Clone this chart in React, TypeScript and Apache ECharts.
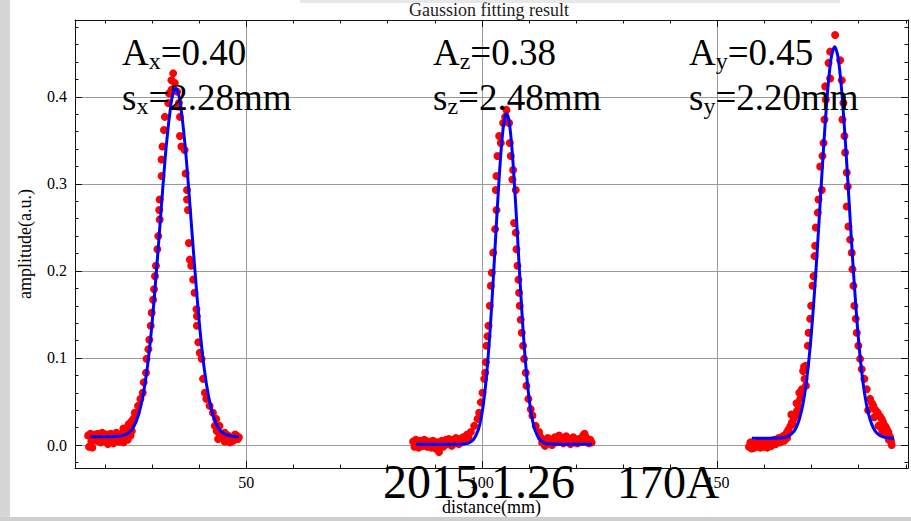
import React, { useEffect, useRef } from "react";
import * as echarts from "echarts";

const FONT = '"Liberation Serif", "Times New Roman", Times, serif';

// axis extents (mm and a.u.)
const X_MIN = 13.62;
const X_MAX = 190.47;
const Y_MIN = -0.0264;
const Y_MAX = 0.4883;

// measured points, x-profile (left peak)
const pointsX: number[][] = [
  [16.4, 0.011], [16.6, -0.002], [16.9, 0.013], [17.1, 0.004], [17.3, -0.003], [17.6, 0.009], [17.9, 0.012],
  [18.2, 0.005], [18.5, 0.013], [18.8, 0.008], [19.1, 0.003], [19.4, 0.014], [19.7, 0.01], [20.0, 0.006],
  [20.3, 0.012], [20.6, 0.001], [20.9, 0.009], [21.2, 0.013], [21.5, 0.007], [21.8, 0.002], [22.1, 0.011],
  [22.4, 0.014], [22.7, 0.008], [23.0, 0.004], [23.3, 0.012], [23.6, 0.009], [23.9, 0.003], [24.2, 0.013],
  [24.5, 0.01], [24.8, 0.006], [25.1, 0.014], [25.4, 0.011], [25.7, 0.016], [23.9, 0.019], [24.3, 0.016],
  [25.0, 0.024], [25.6, 0.027], [24.6, 0.018], [25.3, 0.022], [26.0, 0.03], [26.3, 0.037], [26.7, 0.037],
  [27.0, 0.045], [27.5, 0.053], [28.0, 0.06], [28.2, 0.072], [28.7, 0.083], [28.8, 0.099], [29.2, 0.11],
  [29.4, 0.121], [29.7, 0.137], [29.9, 0.152], [30.2, 0.167], [30.4, 0.179], [30.6, 0.194], [30.8, 0.206],
  [31.1, 0.225], [31.3, 0.24], [31.6, 0.259], [31.5, 0.27], [31.6, 0.282], [32.0, 0.309], [32.0, 0.328],
  [32.2, 0.343], [32.5, 0.362], [32.7, 0.377], [33.4, 0.393], [33.6, 0.404], [34.1, 0.419], [34.46, 0.427],
  [34.81, 0.416], [34.1, 0.408], [35.3, 0.406], [35.7, 0.393], [35.5, 0.389], [35.9, 0.377], [35.9, 0.355],
  [36.2, 0.343], [36.9, 0.339], [37.1, 0.312], [37.4, 0.293], [37.4, 0.282], [37.6, 0.27], [37.8, 0.232],
  [38.0, 0.213], [38.3, 0.206], [38.7, 0.19], [39.0, 0.175], [39.4, 0.156], [39.5, 0.148], [39.5, 0.137],
  [39.8, 0.118], [40.1, 0.106], [40.5, 0.099], [40.8, 0.076], [41.2, 0.06], [41.5, 0.053], [42.2, 0.045],
  [42.9, 0.037], [43.6, 0.03], [44.3, 0.022], [45.4, 0.014], [46.8, 0.007], [47.9, 0.007], [43.3, 0.022],
  [43.7, 0.016], [44.0, 0.007], [44.3, 0.013], [44.7, 0.01], [45.0, 0.009], [45.4, 0.004], [45.7, 0.007],
  [46.1, 0.011], [46.5, 0.003], [46.9, 0.008], [47.2, 0.005], [47.6, 0.012], [47.9, 0.011], [48.2, 0.007],
  [48.4, 0.009],
];

// measured points, z-profile (middle peak)
const pointsZ: number[][] = [
  [85.4, 0.004], [85.7, -0.002], [86.0, 0.006], [86.3, 0.001], [86.6, -0.003], [86.9, 0.005], [87.2, 0.002],
  [87.5, -0.001], [87.8, 0.006], [88.1, 0.003], [88.4, -0.002], [88.7, 0.004], [89.0, 0.001], [89.3, -0.003],
  [89.6, 0.005], [89.9, 0.002], [90.2, -0.004], [90.5, 0.003], [90.9, -0.008], [91.2, 0.001], [91.5, 0.005],
  [91.8, -0.002], [92.1, 0.004], [92.4, 0.006], [92.7, 0.001], [93.0, 0.007], [93.3, 0.003], [93.6, -0.001],
  [93.9, 0.006], [94.2, 0.002], [94.5, 0.008], [94.8, 0.004], [95.1, 0.001], [95.4, 0.007], [95.7, 0.003],
  [96.0, 0.009], [96.3, 0.005], [96.6, 0.01], [96.9, 0.012], [97.2, 0.008], [97.66, 0.015], [98.37, 0.022],
  [99.08, 0.03], [99.43, 0.037], [99.78, 0.049], [100.14, 0.06], [100.49, 0.076], [100.7, 0.083],
  [100.84, 0.095], [100.98, 0.114], [101.19, 0.125], [101.41, 0.137], [101.69, 0.16], [101.9, 0.183],
  [102.11, 0.198], [102.4, 0.221], [102.82, 0.248], [103.1, 0.27], [102.96, 0.293], [103.1, 0.309],
  [103.31, 0.332], [104.02, 0.347], [103.67, 0.355], [104.51, 0.37], [104.94, 0.377], [105.22, 0.385],
  [105.79, 0.37], [105.93, 0.347], [106.14, 0.332], [106.63, 0.316], [106.49, 0.305], [107.2, 0.293],
  [106.84, 0.255], [107.2, 0.244], [107.34, 0.225], [107.55, 0.206], [107.76, 0.19], [107.9, 0.175],
  [108.04, 0.16], [108.26, 0.144], [108.47, 0.129], [108.75, 0.114], [108.96, 0.099], [109.32, 0.083],
  [109.46, 0.068], [109.88, 0.053], [110.38, 0.041], [110.73, 0.034], [111.43, 0.022], [112.14, 0.015],
  [112.5, 0.009], [112.8, 0.003], [113.1, 0.006], [113.4, -0.001], [113.7, 0.004], [114.0, 0.008],
  [114.3, 0.002], [114.6, 0.006], [114.9, 0.0], [115.2, 0.005], [115.5, 0.009], [115.8, 0.003],
  [116.1, 0.007], [116.4, 0.011], [116.7, 0.004], [117.0, 0.008], [117.3, 0.002], [117.6, 0.006],
  [117.9, 0.01], [118.2, 0.004], [118.5, 0.007], [118.8, 0.001], [119.1, 0.005], [119.4, 0.009],
  [119.7, 0.003], [120.0, 0.006], [120.3, 0.002], [120.6, 0.007], [120.9, 0.004], [121.2, 0.008],
  [121.5, 0.011], [121.8, 0.013], [122.1, 0.009], [122.4, 0.005], [122.7, 0.002], [123.0, 0.006],
  [123.3, 0.003],
];

// measured points, y-profile (right peak)
const pointsY: number[][] = [
  [156.7, -0.002], [157.0, 0.003], [157.3, -0.004], [157.6, 0.001], [157.9, -0.003], [158.2, 0.002],
  [158.5, -0.001], [158.8, 0.004], [159.1, -0.003], [159.4, 0.001], [159.7, -0.002], [160.0, 0.003],
  [160.3, 0.0], [160.6, -0.003], [160.9, 0.002], [161.2, 0.005], [161.5, -0.001], [161.8, 0.003],
  [162.1, 0.006], [162.4, 0.001], [162.7, 0.004], [163.0, 0.008], [163.3, 0.003], [163.6, 0.006],
  [163.9, 0.01], [164.2, 0.005], [164.5, 0.012], [164.8, 0.008], [165.1, 0.016], [164.8, 0.015],
  [165.5, 0.022], [165.11, 0.018], [165.82, 0.026], [166.2, 0.03], [166.52, 0.034], [166.9, 0.039],
  [165.7, 0.035], [166.0, 0.024], [166.8, 0.048], [167.4, 0.06], [168.2, 0.085], [168.4, 0.09],
  [167.23, 0.045], [167.58, 0.053], [167.9, 0.057], [167.94, 0.064], [168.5, 0.076], [168.8, 0.068],
  [168.78, 0.091], [169.21, 0.114], [169.35, 0.129], [169.7, 0.145], [169.91, 0.16], [170.2, 0.183],
  [170.41, 0.194], [170.62, 0.217], [170.76, 0.229], [170.9, 0.25], [171.32, 0.267], [171.47, 0.282],
  [172.17, 0.293], [171.82, 0.32], [172.31, 0.332], [172.53, 0.347], [172.74, 0.374], [173.02, 0.397],
  [172.88, 0.412], [173.94, 0.421], [173.59, 0.439], [173.94, 0.452], [175.0, 0.471], [176.06, 0.442],
  [176.41, 0.419], [176.76, 0.393], [176.55, 0.374], [176.97, 0.355], [177.12, 0.336], [177.47, 0.313],
  [177.68, 0.297], [177.47, 0.274], [177.82, 0.251], [178.18, 0.236], [178.53, 0.221], [178.67, 0.202],
  [178.88, 0.183], [179.09, 0.16], [179.38, 0.145], [179.59, 0.129], [179.94, 0.114], [180.3, 0.099],
  [180.65, 0.087], [181.21, 0.076], [181.71, 0.064], [182.41, 0.053], [182.8, 0.048], [183.12, 0.045],
  [183.6, 0.04], [184.04, 0.037], [184.5, 0.033], [184.89, 0.03], [185.2, 0.026], [185.59, 0.022],
  [185.9, 0.019], [186.3, 0.015], [186.6, 0.01], [186.86, 0.005], [187.0, 0.0], [182.0, 0.04],
  [183.3, 0.032], [184.2, 0.022], [185.0, 0.016], [185.8, 0.012], [186.4, 0.006],
];

// fitted Gaussian curves
const fitX: number[][] = [
  [16.8, 0.0095], [20.0, 0.0096], [23.0, 0.0101], [24.0, 0.0113], [25.0, 0.014], [26.0, 0.02], [27.0, 0.033],
  [28.0, 0.055], [29.0, 0.09], [30.0, 0.141], [31.0, 0.206], [32.0, 0.277], [33.0, 0.344], [34.0, 0.392],
  [34.5, 0.405], [35.0, 0.4095], [35.5, 0.405], [36.0, 0.392], [37.0, 0.344], [38.0, 0.277], [39.0, 0.206],
  [40.0, 0.141], [41.0, 0.09], [42.0, 0.055], [43.0, 0.033], [44.0, 0.02], [45.0, 0.014], [46.0, 0.0113],
  [47.0, 0.0101], [48.4, 0.0096],
];
const fitZ: number[][] = [
  [86.0, 0.001], [94.0, 0.001], [96.25, 0.0013], [97.25, 0.0025], [98.25, 0.0064], [99.25, 0.0177],
  [99.75, 0.0285], [100.25, 0.0443], [100.75, 0.0665], [101.25, 0.0957], [101.75, 0.132], [102.25, 0.175],
  [102.75, 0.2218], [103.25, 0.2695], [103.75, 0.3136], [104.25, 0.3495], [104.75, 0.3728], [105.25, 0.381],
  [105.75, 0.3728], [106.25, 0.3495], [106.75, 0.3136], [107.25, 0.2695], [107.75, 0.2218], [108.25, 0.175],
  [108.75, 0.132], [109.25, 0.0957], [109.75, 0.0665], [110.25, 0.0443], [110.75, 0.0285], [111.25, 0.0177],
  [112.25, 0.0064], [113.25, 0.0025], [114.25, 0.0013], [123.4, 0.001],
];
const fitY: number[][] = [
  [157.3, 0.0077], [163.9, 0.0084], [164.9, 0.0098], [165.9, 0.0135], [166.65, 0.0193], [167.4, 0.0296],
  [168.15, 0.0465], [168.9, 0.0727], [169.65, 0.1099], [170.4, 0.1592], [171.15, 0.219], [171.9, 0.285],
  [172.65, 0.3506], [173.4, 0.4064], [174.15, 0.4443], [174.9, 0.4577], [175.65, 0.4443], [176.4, 0.4064],
  [177.15, 0.3506], [177.9, 0.285], [178.65, 0.219], [179.4, 0.1592], [180.15, 0.1099], [180.9, 0.0727],
  [181.65, 0.0465], [182.4, 0.0296], [183.15, 0.0193], [183.9, 0.0135], [184.9, 0.0098], [185.9, 0.0084],
  [187.5, 0.0078],
];

// annotation texts
const ampLabels = [
  { sub: "x", a: "0.40", s: "2.28mm", left: 122 },
  { sub: "z", a: "0.38", s: "2.48mm", left: 433 },
  { sub: "y", a: "0.45", s: "2.20mm", left: 689 },
];
const dateText = "2015.1.26";
const currentText = "170A";
const titleText = "Gaussion fitting result";
const xName = "distance(mm)";
const yName = "amplitude(a.u.)";

export default function App() {
  const ref = useRef<HTMLDivElement>(null);
  useEffect(() => {
    const chart = echarts.init(ref.current!, null, { renderer: "svg" });
    const axisColor = "#111";
    const tick = { show: true, inside: true, length: 7, lineStyle: { color: axisColor, width: 1 } };
    const minor = { show: true, splitNumber: 5, length: 3.5, lineStyle: { color: axisColor, width: 1 } };
    const xCommon: any = {
      type: "value", min: X_MIN, max: X_MAX, minInterval: 50, maxInterval: 50, splitNumber: 4,
      axisLine: { show: true, onZero: false, lineStyle: { color: axisColor, width: 1 } },
      axisTick: tick, minorTick: minor,
    };
    const yCommon: any = {
      type: "value", min: Y_MIN, max: Y_MAX, minInterval: 0.1, maxInterval: 0.1, splitNumber: 5,
      axisLine: { show: true, onZero: false, lineStyle: { color: axisColor, width: 1 } },
      axisTick: tick, minorTick: minor,
    };
    const isMult = (v: number, step: number) => Math.abs(v / step - Math.round(v / step)) < 1e-6;
    const rich = {
      b: { fontSize: 37, fontFamily: FONT, lineHeight: 40, color: "#000" },
      s: { fontSize: 24, fontFamily: FONT, lineHeight: 16, verticalAlign: "bottom", color: "#000" },
    };
    const annots: any[] = [];
    ampLabels.forEach((l) => {
      annots.push({
        type: "text", x: l.left, y: 32.5, z: 100,
        style: { text: `{b|A}{s|${l.sub}}{b|=${l.a}}`, rich, align: "left", verticalAlign: "top" },
      });
      annots.push({
        type: "text", x: l.left, y: 77.5, z: 100,
        style: { text: `{b|s}{s|${l.sub}}{b|=${l.s}}`, rich, align: "left", verticalAlign: "top" },
      });
    });
    const scatterStyle = { color: "#ff0000", opacity: 1 };
    const option: any = {
      animation: false,
      backgroundColor: "#ffffff",
      title: {
        text: titleText, left: 409, top: 1, padding: 0,
        textStyle: { fontFamily: FONT, fontSize: 18, fontWeight: "normal", color: "#222" },
      },
      grid: { left: 75, right: 1, top: 20, bottom: 52 },
      xAxis: [
        {
          ...xCommon, position: "bottom",
          name: xName, nameLocation: "middle", nameGap: 30,
          nameTextStyle: { fontFamily: FONT, fontSize: 18, color: "#000" },
          axisLabel: {
            margin: 6, fontFamily: FONT, fontSize: 16, color: "#000",
            formatter: (v: number) => (isMult(v, 50) ? String(Math.round(v)) : ""),
          },
          splitLine: { show: true, lineStyle: { color: "#9a9a9a", width: 1 } },
        },
        { ...xCommon, position: "top", axisLabel: { show: false }, splitLine: { show: false } },
      ],
      yAxis: [
        {
          ...yCommon, position: "left",
          name: yName, nameLocation: "middle", nameGap: 41,
          nameTextStyle: { fontFamily: FONT, fontSize: 18, color: "#000" },
          axisLabel: {
            margin: 8, fontFamily: FONT, fontSize: 16, color: "#000",
            formatter: (v: number) => (isMult(v, 0.1) ? v.toFixed(1) : ""),
          },
          splitLine: { show: true, lineStyle: { color: "#9a9a9a", width: 1 } },
        },
        { ...yCommon, position: "right", axisLabel: { show: false }, splitLine: { show: false } },
      ],
      series: [
        { type: "scatter", name: "x data", data: pointsX, symbol: "circle", symbolSize: 8, itemStyle: scatterStyle, z: 2 },
        { type: "scatter", name: "z data", data: pointsZ, symbol: "circle", symbolSize: 8, itemStyle: scatterStyle, z: 2 },
        { type: "scatter", name: "y data", data: pointsY, symbol: "circle", symbolSize: 8, itemStyle: scatterStyle, z: 2 },
        { type: "line", name: "x fit", data: fitX, showSymbol: false, smooth: 0.3, lineStyle: { color: "#0000ff", width: 3 }, z: 3 },
        { type: "line", name: "z fit", data: fitZ, showSymbol: false, smooth: 0.3, lineStyle: { color: "#0000ff", width: 3 }, z: 3 },
        { type: "line", name: "y fit", data: fitY, showSymbol: false, smooth: 0.3, lineStyle: { color: "#0000ff", width: 3 }, z: 3 },
      ],
      graphic: [
        { type: "rect", shape: { x: 0, y: 0, width: 10, height: 521 }, style: { fill: "#d6d6d6" }, z: -1, silent: true },
        { type: "rect", shape: { x: 0, y: 517, width: 911, height: 4 }, style: { fill: "#cfcfcf" }, z: -1, silent: true },
        { type: "rect", shape: { x: 300, y: 0, width: 540, height: 3 }, style: { fill: "#e8e8e8" }, z: -1, silent: true },
        ...annots,
        {
          type: "text", x: 383, y: 481.8, z: 100,
          style: { text: dateText, fontFamily: FONT, fontSize: 48, fill: "#000", verticalAlign: "middle", align: "left" },
        },
        {
          type: "text", x: 617, y: 482.5, z: 100,
          style: { text: currentText, fontFamily: FONT, fontSize: 46, fill: "#000", verticalAlign: "middle", align: "left" },
        },
      ],
    };
    chart.setOption(option);
    return () => chart.dispose();
  }, []);
  return (
    <div
      ref={ref}
      style={{ position: "fixed", left: 0, top: 0, width: 911, height: 521, background: "#fff" }}
    />
  );
}
